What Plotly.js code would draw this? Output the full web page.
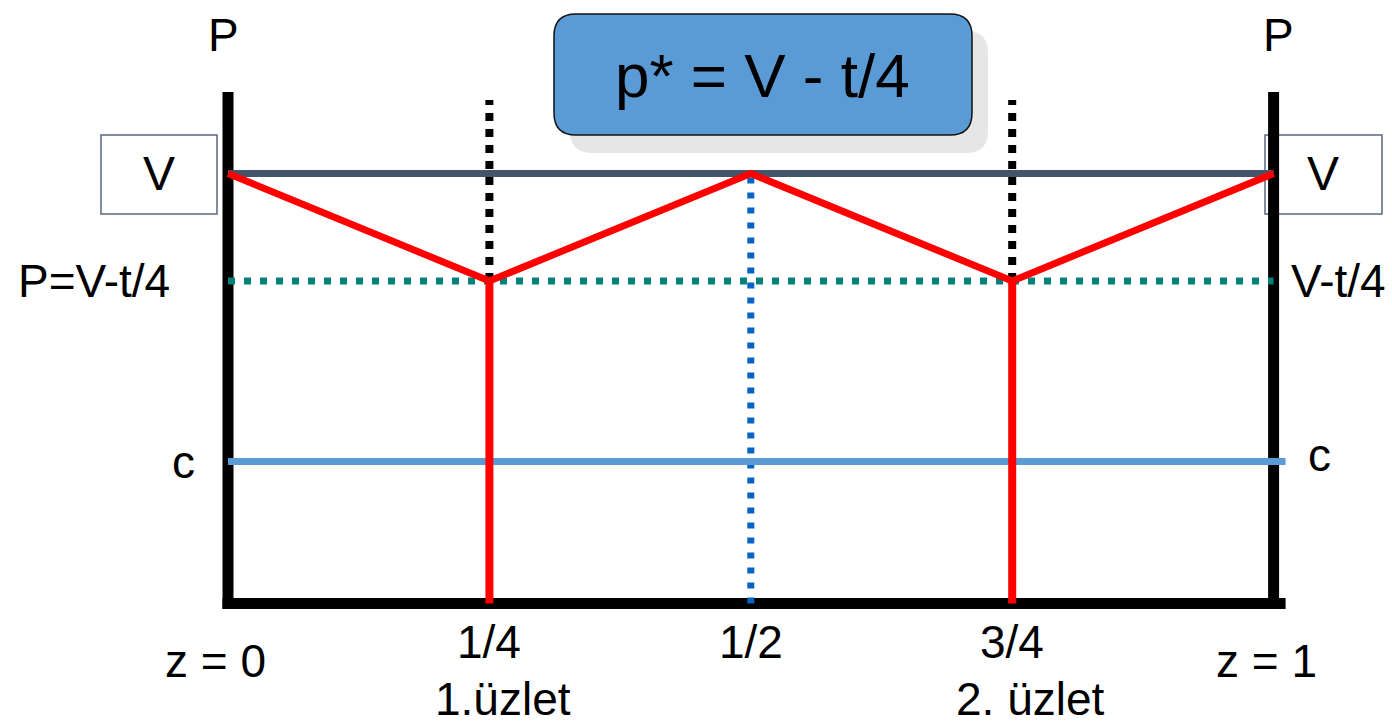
<!DOCTYPE html>
<html>
<head>
<meta charset="utf-8">
<script src="https://cdn.plot.ly/plotly-3.0.1.min.js"></script>
<style>
  html, body { margin: 0; padding: 0; background: #ffffff; }
  #chart { width: 1392px; height: 728px; }
</style>
</head>
<body>
<div id="chart"></div>
<script>
// Hotelling line with two stores: locations, price levels and delivered price
const zPoints = [0, 0.25, 0.5, 0.75, 1];
const deliveredPrice = [1, 0.75, 1, 0.75, 1];
const storeZ = [0.25, 0.75];
const midZ = 0.5;
const reservationV = 1;
const equilibriumP = 0.75;
const unitCost = 0.33;

const tickVals = [0.25, 0.5, 0.75];
const tickText = ["1/4", "1/2", "3/4"];
const endVals = [0, 1];
const endText = ["z = 0", "z = 1"];
const storeText = ["1.üzlet", "2. üzlet"];
const axisName = "P";
const levelLeft = ["V", "P=V-t/4", "c"];
const levelRight = ["V", "V-t/4", "c"];
const headline = "p* = V - t/4";

// Page geometry: the plot area fills the whole figure
const W = 1392, H = 728;
const X0 = 228, XS = 1045.6;   // pixel of z = 0, pixels per unit of z
const Y0 = 603.5, YS = 430;    // pixel of price 0, pixels per unit of price
const px2x = p => (p - X0) / XS;
const px2y = p => (Y0 - p) / YS;
const FONT = "Liberation Sans, Arial, Helvetica, sans-serif";

function seg(x, y, color, width, dash) {
  return {
    type: "scatter", mode: "lines", x: x, y: y, hoverinfo: "skip",
    line: { color: color, width: width, dash: dash || "solid" }
  };
}

const frameTop = px2y(92);
const dotTop = px2y(100);

const traces = [
  // axes frame
  seg([0, 0], [px2y(609), frameTop], "#000000", 11),
  seg([1, 1], [px2y(606), frameTop], "#000000", 11),
  seg([-5.5 / XS, 1 + 12 / XS], [0, 0], "#000000", 11),
  // store position guides above the equilibrium price
  seg([storeZ[0], storeZ[0]], [equilibriumP, dotTop], "#000000", 8, "8px,8px"),
  seg([storeZ[1], storeZ[1]], [equilibriumP, dotTop], "#000000", 8, "8px,8px"),
  // market boundary between the two stores
  seg([midZ, midZ], [0, reservationV], "#0563c1", 7, "6px,9px"),
  // price levels
  seg([0, 1], [reservationV, reservationV], "#44546a", 7),
  seg([0, 1], [equilibriumP, equilibriumP], "#00827a", 7, "7px,9px"),
  seg([0, 1 + 12 / XS], [unitCost, unitCost], "#5b9bd5", 7),
  // stores
  seg([storeZ[0], storeZ[0]], [0, equilibriumP], "#ff0000", 8),
  seg([storeZ[1], storeZ[1]], [0, equilibriumP], "#ff0000", 8),
  // delivered price p* + t·distance
  seg(zPoints, deliveredPrice, "#ff0000", 7)
];

function roundRect(x0, y0, x1, y1, r) {
  const X = p => (p / W).toFixed(5), Y = p => (1 - p / H).toFixed(5);
  return "M" + X(x0 + r) + "," + Y(y0) +
    " L" + X(x1 - r) + "," + Y(y0) +
    " Q" + X(x1) + "," + Y(y0) + " " + X(x1) + "," + Y(y0 + r) +
    " L" + X(x1) + "," + Y(y1 - r) +
    " Q" + X(x1) + "," + Y(y1) + " " + X(x1 - r) + "," + Y(y1) +
    " L" + X(x0 + r) + "," + Y(y1) +
    " Q" + X(x0) + "," + Y(y1) + " " + X(x0) + "," + Y(y1 - r) +
    " L" + X(x0) + "," + Y(y0 + r) +
    " Q" + X(x0) + "," + Y(y0) + " " + X(x0 + r) + "," + Y(y0) + " Z";
}

const shapes = [
  { type: "path", xref: "paper", yref: "paper", layer: "below",
    path: roundRect(570, 31, 988, 153, 22), fillcolor: "#e6e6e6", line: { width: 0 } },
  { type: "path", xref: "paper", yref: "paper", layer: "below",
    path: roundRect(554, 14, 972, 135, 22), fillcolor: "#5b9bd5",
    line: { color: "#111111", width: 1.5 } },
  { type: "rect", xref: "x", yref: "y", layer: "below",
    x0: px2x(101), x1: px2x(217), y0: px2y(135), y1: px2y(214),
    fillcolor: "#ffffff", line: { color: "#5a6a80", width: 1.5 } },
  { type: "rect", xref: "x", yref: "y", layer: "below",
    x0: px2x(1265), x1: px2x(1382), y0: px2y(135), y1: px2y(214),
    fillcolor: "#ffffff", line: { color: "#5a6a80", width: 1.5 } }
];

function label(text, x, y, size, extra) {
  return Object.assign({
    text: text, x: x, y: y, xref: "x", yref: "y", showarrow: false,
    xanchor: "center", yanchor: "middle",
    font: { family: FONT, size: size, color: "#000000" }
  }, extra || {});
}

const F = 46;
const annotations = [
  { text: headline, xref: "paper", yref: "paper", x: 762 / W, y: 1 - 76 / H,
    showarrow: false, xanchor: "center", yanchor: "middle",
    font: { family: FONT, size: 62, color: "#000000" } },
  label(axisName, 0, px2y(35), F, { xshift: -5 }),
  label(axisName, 1, px2y(35), F, { xshift: 5 }),
  label(levelLeft[0], px2x(159), reservationV, 48),
  label(levelRight[0], px2x(1323), reservationV, 48),
  label(levelLeft[1], px2x(94), equilibriumP, F),
  label(levelRight[1], px2x(1338), equilibriumP, F),
  label(levelLeft[2], px2x(183), unitCost, F),
  label(levelRight[2], px2x(1319), unitCost, F, { yshift: 7 })
];
tickVals.forEach((v, i) => annotations.push(label(tickText[i], v, px2y(642), F)));
annotations.push(label(endText[0], endVals[0], px2y(661), F, { xshift: -13 }));
annotations.push(label(endText[1], endVals[1], px2y(661), F, { xshift: -7 }));
annotations.push(label(storeText[0], storeZ[0], px2y(699), F, { xshift: 14 }));
annotations.push(label(storeText[1], storeZ[1], px2y(699), F, { xshift: 18 }));

const layout = {
  width: W, height: H,
  margin: { l: 0, r: 0, t: 0, b: 0, pad: 0 },
  paper_bgcolor: "#ffffff", plot_bgcolor: "#ffffff",
  showlegend: false,
  xaxis: { range: [px2x(0), px2x(W)], visible: false, fixedrange: true },
  yaxis: { range: [px2y(H), px2y(0)], visible: false, fixedrange: true },
  shapes: shapes,
  annotations: annotations
};

Plotly.newPlot("chart", traces, layout, { displayModeBar: false, staticPlot: true });
</script>
</body>
</html>
